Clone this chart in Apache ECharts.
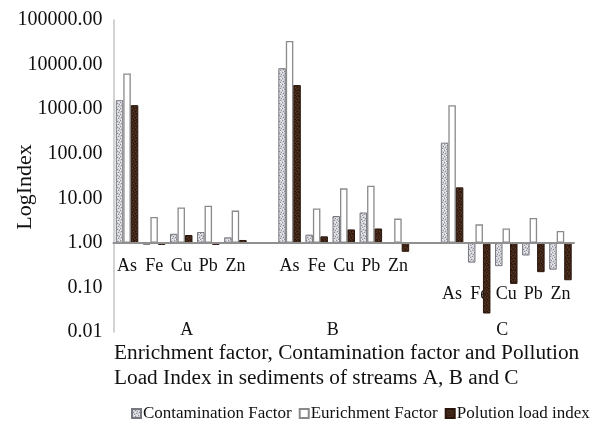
<!DOCTYPE html>
<html>
<head>
<meta charset="utf-8">
<script src="https://cdn.jsdelivr.net/npm/echarts@6/dist/echarts.min.js"></script>
<style>html,body{margin:0;padding:0;background:#fff;}#c{width:593px;height:426px;}</style>
</head>
<body>
<div id="c"></div>
<script>
// ---- data ----
var elements = ['As', 'Fe', 'Cu', 'Pb', 'Zn'];
var streams = ['A', 'B', 'C'];
var yTicks = [0.01, 0.1, 1, 10, 100, 1000, 10000, 100000];
// Contamination factor per stream (As, Fe, Cu, Pb, Zn)
var cfA = [1590, 0.9, 1.6, 1.75, 1.33];
var cfB = [8300, 1.53, 4.0, 4.8, 0.95];
var cfC = [177, 0.36, 0.30, 0.52, 0.25];
// Enrichment factor
var efA = [6330, 3.8, 6.2, 6.8, 5.3];
var efB = [34000, 5.9, 16.7, 19.2, 3.5];
var efC = [1230, 2.6, 2.1, 3.6, 1.85];
// Pollution load index
var pliA = [1230, 0.9, 1.5, 0.9, 1.16];
var pliB = [3470, 1.4, 2.0, 2.1, 0.63];
var pliC = [17.6, 0.026, 0.12, 0.22, 0.145];
var seriesNames = ['Contamination Factor', 'Eurichment Factor', 'Polution load index'];

// ---- build categories: 5 elements per stream with one blank slot between streams ----
function joinGroups(a, b, c) {
  return a.map(Math.log10).concat(['-'], b.map(Math.log10), ['-'], c.map(Math.log10));
}
var cats = elements.concat([''], elements, [''], elements);
var streamCats = cats.map(function () { return ''; });
streamCats[2] = streams[0]; streamCats[8] = streams[1]; streamCats[14] = streams[2];

function makePattern(base, fleck, fleck2) {
  var cv = document.createElement('canvas');
  cv.width = 6; cv.height = 6;
  var ctx = cv.getContext('2d');
  ctx.fillStyle = base; ctx.fillRect(0, 0, 6, 6);
  ctx.fillStyle = fleck;
  [[0,0],[3,1],[1,3],[4,4],[2,5],[5,2]].forEach(function (p) { ctx.fillRect(p[0], p[1], 1, 1); });
  ctx.fillStyle = fleck2;
  [[2,0],[5,0],[0,2],[3,3],[1,5],[4,5]].forEach(function (p) { ctx.fillRect(p[0], p[1], 1, 1); });
  return { image: cv, repeat: 'repeat' };
}
var cfFill = makePattern('#cfcfd6', '#8d8d98', '#f2f2f4');
var pliFill = makePattern('#3e2517', '#5e3b26', '#26140b');

var FONT = 'Liberation Serif';
var BASE_COLOR = '#909090';
var GRID = { left: 113.5, right: 19, top: 20, bottom: 94 };
var plotH = 426 - GRID.top - GRID.bottom;
var yMin = Math.log10(yTicks[0]), yMax = Math.log10(yTicks[yTicks.length - 1]);
// shift of the element axis from the plot bottom up to the value 1 (log 0)
var zeroOffset = -plotH * (0 - yMin) / (yMax - yMin);
// split line colours: only the line at value 1 is drawn
var splitColors = yTicks.map(function (t) { return t === 1 ? BASE_COLOR : 'rgba(255,255,255,0)'; });

var chart = echarts.init(document.getElementById('c'), null, { renderer: 'canvas' });
var option = {
  animation: false,
  backgroundColor: '#fff',
  textStyle: { fontFamily: FONT, color: '#111' },
  title: {
    text: 'Enrichment factor, Contamination factor and Pollution\nLoad Index in sediments of streams A, B and C',
    left: 114, top: 341, padding: 0,
    textStyle: { fontFamily: FONT, fontWeight: 'normal', fontSize: 21.3, lineHeight: 25, color: '#111' }
  },
  legend: {
    bottom: 4, left: 131, padding: 0,
    itemWidth: 9, itemHeight: 9, itemGap: 7,
    icon: 'rect',
    textStyle: { fontFamily: FONT, fontSize: 17, color: '#111', padding: [0, 0, 0, -3] },
    data: seriesNames
  },
  grid: { left: GRID.left, right: GRID.right, top: GRID.top, bottom: GRID.bottom, containLabel: false, outerBoundsMode: 'none' },
  xAxis: [{
    type: 'category',
    data: cats,
    position: 'bottom',
    offset: zeroOffset,
    axisLine: { show: true, onZero: false, lineStyle: { color: BASE_COLOR, width: 2 } },
    axisTick: { show: false },
    axisLabel: {
      interval: 0, margin: 14, fontFamily: FONT, fontSize: 18, color: '#111',
      formatter: function (v, i) { return i >= 12 ? '{c|' + v + '}' : v; },
      rich: { c: { fontFamily: FONT, fontSize: 18, color: '#111', padding: [28, 0, 0, 0] } }
    }
  }, {
    type: 'category',
    data: streamCats,
    position: 'bottom',
    axisLine: { show: false, onZero: false },
    axisTick: { show: false },
    axisLabel: {
      interval: 0, margin: -11, fontFamily: FONT, fontSize: 18, color: '#111',
      formatter: function (v, i) {
        if (i === 2) return '{a|' + v + '}';
        if (i === 8) return '{b|' + v + '}';
        if (i === 14) return '{d|' + v + '}';
        return '';
      },
      rich: {
        a: { fontFamily: FONT, fontSize: 18, color: '#111', padding: [0, 0, 0, 11] },
        b: { fontFamily: FONT, fontSize: 18, color: '#111', padding: [0, 22, 0, 0] },
        d: { fontFamily: FONT, fontSize: 18, color: '#111', padding: [0, 8, 0, 0] }
      }
    }
  }],
  yAxis: {
    type: 'value',
    min: yMin, max: yMax, interval: 1,
    name: 'LogIndex', nameLocation: 'middle', nameRotate: 90, nameGap: 77, nameMoveOverlap: false,
    nameTextStyle: { fontFamily: FONT, fontSize: 22, color: '#111', padding: [0, 22, 0, 0] },
    axisLine: { show: true, onZero: false, lineStyle: { color: '#c4c4c4', width: 1.5 } },
    axisTick: { show: false },
    splitLine: { show: true, lineStyle: { color: splitColors, width: 2 } },
    axisLabel: {
      margin: 11, fontFamily: FONT, fontSize: 20, color: '#111',
      formatter: function (v) { return Math.pow(10, v).toFixed(2); }
    }
  },
  series: [{
    name: seriesNames[0], type: 'bar', barWidth: 7.5, barGap: '0%',
    data: joinGroups(cfA, cfB, cfC),
    itemStyle: { color: cfFill, borderColor: '#777780', borderWidth: 1 },
    markLine: {
      silent: true, symbol: 'none',
      label: { show: false },
      lineStyle: { color: BASE_COLOR, width: 2, type: 'solid', opacity: 1 },
      data: [{ yAxis: Math.log10(yTicks[2]) }]
    }
  }, {
    name: seriesNames[1], type: 'bar', barWidth: 7.5, barGap: '0%',
    data: joinGroups(efA, efB, efC),
    itemStyle: { color: '#ffffff', borderColor: '#8a8a8a', borderWidth: 1.3 }
  }, {
    name: seriesNames[2], type: 'bar', barWidth: 7.5, barGap: '0%',
    data: joinGroups(pliA, pliB, pliC),
    itemStyle: { color: pliFill, borderColor: '#2a160c', borderWidth: 1 }
  }]
};
chart.setOption(option);
</script>
</body>
</html>
